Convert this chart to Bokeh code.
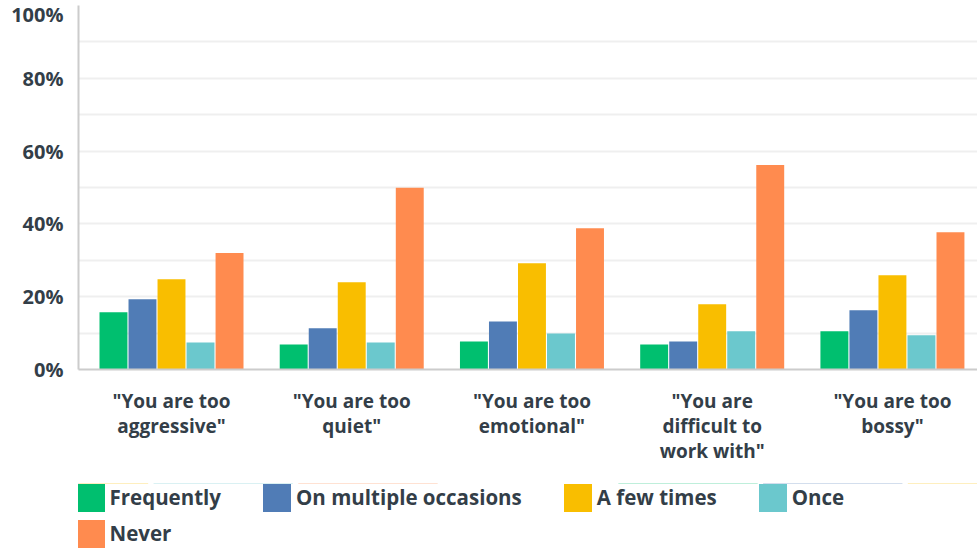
from bokeh.plotting import figure
from bokeh.layouts import column
from bokeh.models import (Range1d, FixedTicker, PrintfTickFormatter, Legend,
                          LegendItem, ColumnDataSource, CustomJSTickFormatter)
from bokeh.embed import file_html
from bokeh.resources import INLINE

categories = ['"You are too\naggressive"', '"You are too\nquiet"',
              '"You are too\nemotional"', '"You are\ndifficult to\nwork with"',
              '"You are too\nbossy"']
series = ["Frequently", "On multiple occasions", "A few times", "Once", "Never"]
frequently = [15.7, 6.9, 7.7, 6.9, 10.5]
multiple = [19.3, 11.3, 13.2, 7.7, 16.3]
few_times = [24.8, 24.0, 29.2, 17.9, 25.9]
once = [7.4, 7.4, 9.9, 10.5, 9.4]
never = [32.0, 49.9, 38.8, 56.2, 37.7]
values = [frequently, multiple, few_times, once, never]
colors = ["#00bf6f", "#507cb6", "#f9be00", "#6bc8cd", "#ff8b4f"]
y_ticks = [0, 20, 40, 60, 80, 100]
grid_ticks = [10, 20, 30, 40, 50, 60, 70, 80, 90]

TEXT = "#333e48"
FONT = "Open Sans"

p = figure(width=977, height=483, output_backend="svg",
           toolbar_location=None,
           x_range=Range1d(-0.516, 4.472), y_range=Range1d(0, 100))
p.min_border_left = 78
p.min_border_right = 0
p.min_border_top = 5
p.min_border_bottom = 114
p.outline_line_color = None
p.background_fill_color = "white"

pitch = 0.161
bw = 0.155
sources = []
for j, (name, vals, col) in enumerate(zip(series, values, colors)):
    xs = [i + (j - 2) * pitch for i in range(len(categories))]
    src = ColumnDataSource(dict(x=xs, top=vals))
    sources.append(src)
    p.vbar(x="x", top="top", width=bw, bottom=0, source=src,
           fill_color=col, line_color=None)

# grid
p.xgrid.visible = False
p.ygrid.ticker = FixedTicker(ticks=grid_ticks)
p.ygrid.grid_line_color = "#efefef"
p.ygrid.grid_line_width = 2

# y axis
ya = p.yaxis[0]
ya.ticker = FixedTicker(ticks=y_ticks, minor_ticks=[])
ya.formatter = PrintfTickFormatter(format="%d%%")
ya.axis_line_color = "#cccccc"
ya.axis_line_width = 2
ya.major_tick_line_color = None
ya.minor_tick_line_color = None
ya.major_label_text_font = FONT
ya.major_label_text_font_style = "bold"
ya.major_label_text_font_size = "20px"
ya.major_label_text_color = TEXT
ya.major_label_text_baseline = "top"
ya.major_label_standoff = 9

# x axis
xa = p.xaxis[0]
xa.ticker = FixedTicker(ticks=list(range(len(categories))), minor_ticks=[])
xa.formatter = CustomJSTickFormatter(args=dict(labels=categories),
                                     code="return labels[index]")
xa.axis_line_color = "#cccccc"
xa.axis_line_width = 2
xa.major_tick_line_color = None
xa.minor_tick_line_color = None
xa.major_label_text_font = FONT
xa.major_label_text_font_style = "bold"
xa.major_label_text_font_size = "19px"
xa.major_label_text_color = TEXT
xa.major_label_text_line_height = 0.97
xa.major_label_standoff = 12

# legend panel (separate figure below the chart; its frame aligns with the chart's)
lg = figure(width=977, height=65, output_backend="svg", toolbar_location=None,
            x_range=Range1d(0, 1), y_range=Range1d(-2, -1))
lg.min_border_left = 0
lg.min_border_right = 0
lg.min_border_top = 0
lg.min_border_bottom = 0
lg.outline_line_color = None
lg.axis.visible = False
lg.grid.visible = False

# same series (out of this panel's view) so the legend swatches can be drawn
swatches = []
for src, col in zip(sources, colors):
    r = lg.vbar(x="x", top="top", width=bw, bottom=0, source=src,
                fill_color=col, line_color=None)
    swatches.append(r)


def make_legend(items, loc):
    return Legend(items=items, orientation="horizontal", location=loc,
                  glyph_width=35, glyph_height=35, label_standoff=2, spacing=38,
                  padding=0, margin=0, border_line_alpha=0,
                  background_fill_alpha=0,
                  label_text_font=FONT, label_text_font_style="bold",
                  label_text_font_size="20.5px", label_text_color=TEXT,
                  label_height=35)


items1 = [LegendItem(label=series[k], renderers=[swatches[k]]) for k in range(4)]
items2 = [LegendItem(label=series[4], renderers=[swatches[4]])]
lg.add_layout(make_legend(items1, (-5.5, 33.5)))
lg.add_layout(make_legend(items2, (-5.5, -2.5)))

open("out.html", "w").write(file_html(column(p, lg, spacing=0), INLINE))
